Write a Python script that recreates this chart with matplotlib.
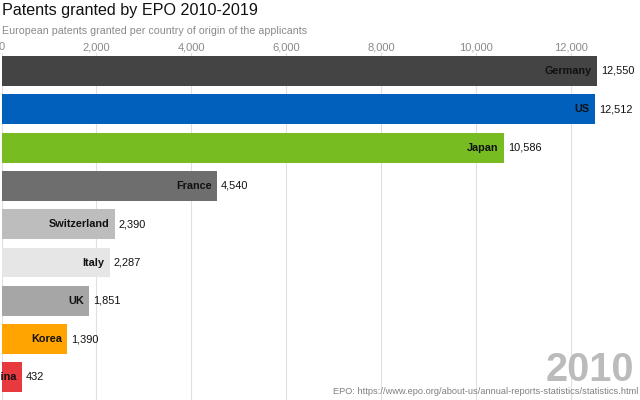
import matplotlib
matplotlib.use("Agg")
import matplotlib.pyplot as plt
from matplotlib.ticker import FuncFormatter

plt.rcParams['font.family'] = ['Liberation Sans', 'DejaVu Sans']

countries = ["Germany", "US", "Japan", "France", "Switzerland", "Italy", "UK", "Korea", "China"]
values = [12550, 12512, 10586, 4540, 2390, 2287, 1851, 1390, 432]
colors = ["#444444", "#0060bc", "#77bd22", "#6e6e6e", "#bdbdbd", "#e6e6e6", "#a6a6a6", "#ffa400", "#e8393e"]
xticks = [0, 2000, 4000, 6000, 8000, 10000, 12000]
year = "2010"

W, H = 640, 400
fig = plt.figure(figsize=(6.4, 4.0), dpi=100)

# axes placement in pixels
ax_left_px, ax_right_px = 1.5, 640
ax_top_px, ax_bot_px = 53, 400
ax = fig.add_axes([ax_left_px / W, 1 - ax_bot_px / H,
                   (ax_right_px - ax_left_px) / W, (ax_bot_px - ax_top_px) / H])

px_per_unit = 47.46 / 1000
ax.set_xlim(0, (ax_right_px - ax_left_px) / px_per_unit)
band = 38.3
c0 = 71
ax.set_ylim((ax_bot_px - c0) / band, (ax_top_px - c0) / band)

y = list(range(len(countries)))
ax.barh(y, values, height=0.78, color=colors, zorder=2)

ax.set_xticks(xticks)
ax.xaxis.set_major_formatter(FuncFormatter(lambda v, p: f"{int(v):,}"))
ax.xaxis.tick_top()
ax.tick_params(axis='x', length=0, pad=0.5, labelsize=8, labelcolor="#8a8a8a")
ax.set_yticks([])
ax.grid(axis='x', color="#e0e0e0", linewidth=0.8, zorder=0)
for s in ax.spines.values():
    s.set_visible(False)

for yi, v, name in zip(y, values, countries):
    ax.annotate(name, (v, yi), xytext=(-4, 0), textcoords="offset points",
                ha="right", va="center", fontsize=7.8, fontweight="bold",
                color="#111111", zorder=3, annotation_clip=False)
    ax.annotate(f"{v:,}", (v, yi), xytext=(2.8, 0), textcoords="offset points",
                ha="left", va="center", fontsize=7.9, color="#111111", zorder=3,
                annotation_clip=False)

fig.text(2 / W, 1 - 10 / H, "Patents granted by EPO 2010-2019", fontsize=11.6,
         ha="left", va="center", color="#111111")
fig.text(2 / W, 1 - 31.5 / H, "European patents granted per country of origin of the applicants",
         fontsize=7.7, ha="left", va="center", color="#8a8a8a")
fig.text(634 / W, 1 - 381 / H, year, fontsize=28.5, fontweight="bold",
         ha="right", va="baseline", color="#bbbbbb", zorder=5)
fig.text(638 / W, 1 - 392 / H,
         "EPO: https://www.epo.org/about-us/annual-reports-statistics/statistics.html",
         fontsize=6.7, ha="right", va="center", color="#808080")

fig.savefig("out.png", dpi=100)
